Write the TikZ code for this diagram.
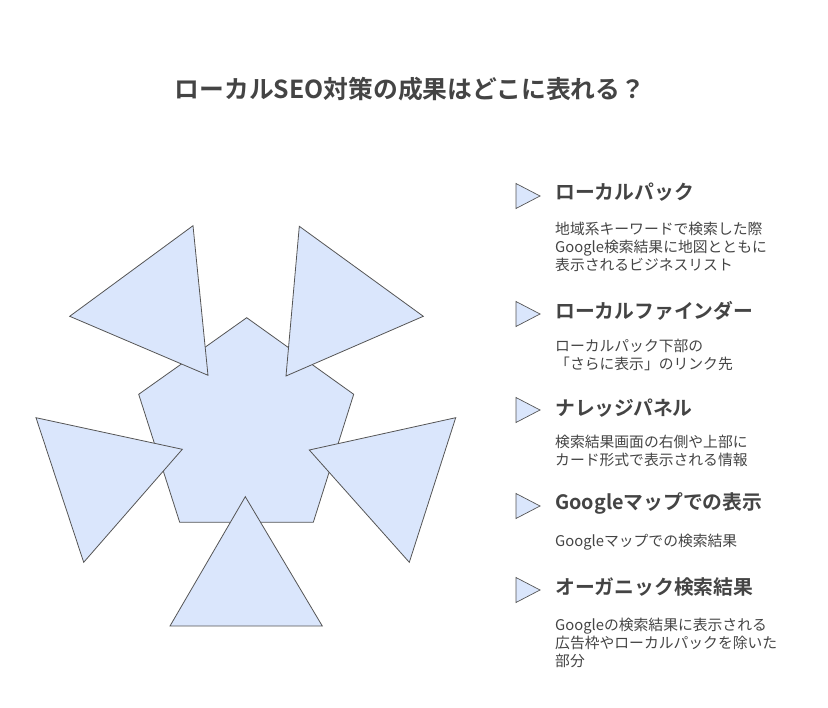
\documentclass[tikz,border=0pt]{standalone}
\usepackage{fontspec}
\setmainfont{Noto Sans CJK JP}[BoldFont={Noto Sans CJK JP Bold}]
\definecolor{txt}{HTML}{444444}
\definecolor{shapefill}{HTML}{DAE6FC}
\definecolor{shapeline}{HTML}{555555}
\tikzset{
  piece/.style={draw=shapeline, fill=shapefill, line width=0.8pt, line join=miter},
  marker/.style={draw=shapeline, fill=shapefill, line width=0.7pt},
  titletext/.style={text=txt, font=\fontsize{24.8}{28}\selectfont\bfseries, inner sep=0pt},
  headtext/.style={text=txt, font=\fontsize{19.8}{23}\selectfont\bfseries, anchor=west, inner sep=0pt},
  bodytext/.style={text=txt, font=\fontsize{14.8}{18}\selectfont, anchor=north west, align=left, inner sep=0pt},
}
\begin{document}
\begin{tikzpicture}[x=1pt,y=-1pt]
\useasboundingbox (0,0) rectangle (828,708);
\node[titletext] (title) at (410,89) {ローカルSEO対策の成果はどこに表れる？};

% pentagon
\draw[piece] (246.7,317.7) -- (353.7,394.3) -- (313.3,522.3) -- (179.7,522.3) -- (138.7,394.3) -- cycle;
% triangles
\draw[piece] (193,225.7) -- (69.7,316.3) -- (208,375.3) -- cycle;
\draw[piece] (299.3,226.3) -- (423.3,316.3) -- (286,376) -- cycle;
\draw[piece] (36,417.7) -- (182.3,449.3) -- (83.7,562.3) -- cycle;
\draw[piece] (455.7,417.7) -- (309.3,450) -- (409.3,562.3) -- cycle;
\draw[piece] (245.3,496.7) -- (170,626) -- (322.3,626) -- cycle;

% list
\foreach \y/\n in {196/a,314/b,410/c,506/d,590/e}{
  \draw[marker] (516,\y-12.5) -- (540,\y) -- (516,\y+12.5) -- cycle;
}
\node[headtext] (h1) at (555,192) {ローカルパック};
\node[bodytext] (b1) at (555,221.5) {地域系キーワードで検索した際\\Google検索結果に地図とともに\\表示されるビジネスリスト};
\node[headtext] (h2) at (555,311) {ローカルファインダー};
\node[bodytext] (b2) at (555,339) {ローカルパック下部の\\「さらに表示」のリンク先};
\node[headtext] (h3) at (555,408) {ナレッジパネル};
\node[bodytext] (b3) at (555,435) {検索結果画面の右側や上部に\\カード形式で表示される情報};
\node[headtext] (h4) at (555,503) {Googleマップでの表示};
\node[bodytext] (b4) at (555,534) {Googleマップでの検索結果};
\node[headtext] (h5) at (555,587) {オーガニック検索結果};
\node[bodytext] (b5) at (555,618) {Googleの検索結果に表示される\\広告枠やローカルパックを除いた\\部分};
\end{tikzpicture}
\end{document}
